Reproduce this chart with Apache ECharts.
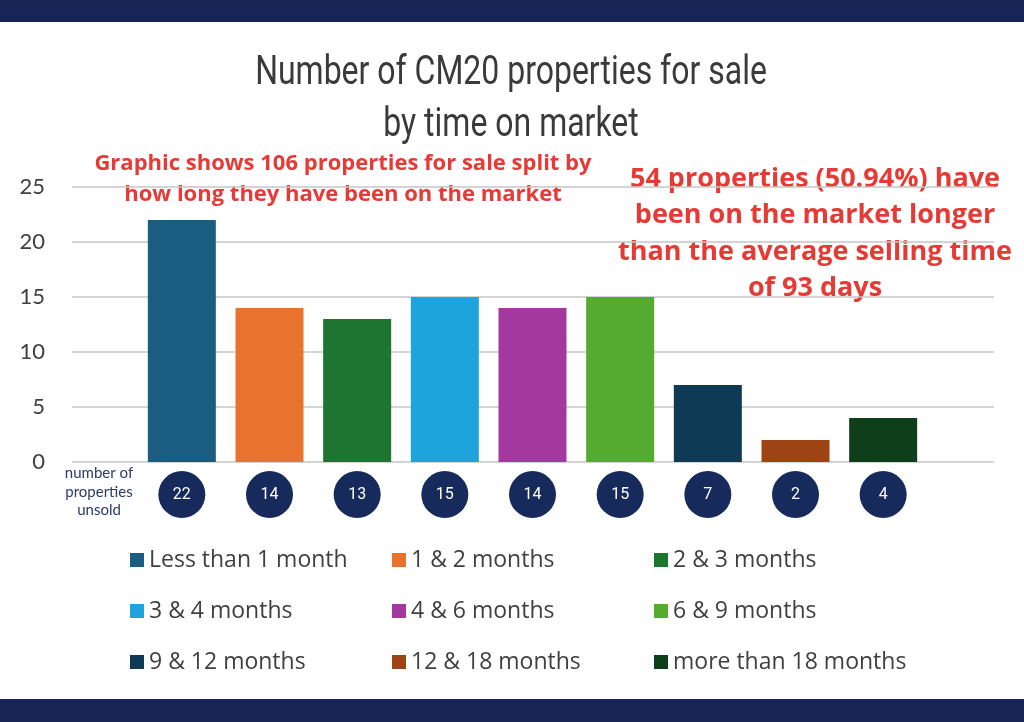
<!DOCTYPE html>
<html>
<head>
<meta charset="utf-8">
<script src="https://cdn.jsdelivr.net/npm/echarts@6/dist/echarts.min.js"></script>
<style>
html,body{margin:0;padding:0;background:#fff;}
#chart{width:1024px;height:722px;}
</style>
</head>
<body>
<div id="chart"></div>
<script>
var categories = ['Less than 1 month','1 & 2 months','2 & 3 months','3 & 4 months','4 & 6 months','6 & 9 months','9 & 12 months','12 & 18 months','more than 18 months'];
var counts = [22, 14, 13, 15, 14, 15, 7, 2, 4];
var colors = ['#1a5d80','#e8732f','#1d7530','#1fa3dc','#a3389f','#55ab2f','#0f3a55','#9e4313','#0f3e1a'];
var yTicks = [0, 5, 10, 15, 20, 25];
var titleLines = ['Number of CM20 properties for sale', 'by time on market'];
var noteLeft = ['Graphic shows 106 properties for sale split by', 'how long they have been on the market'];
var noteRight = ['54 properties (50.94%) have', 'been on the market longer', 'than the average selling time', 'of 93 days'];
var rowLabel = ['number of', 'properties', 'unsold'];

var chart = echarts.init(document.getElementById('chart'));

var series = categories.map(function (name, i) {
  return {
    name: name,
    type: 'bar',
    stack: 'all',
    xAxisIndex: 1,
    yAxisIndex: 1,
    barWidth: 68,
    itemStyle: { color: colors[i] },
    data: categories.map(function (c, j) { return j === i ? counts[i] : '-'; })
  };
});

function legendCol(idx, left) {
  return {
    orient: 'vertical',
    left: left,
    top: 548,
    padding: 0,
    itemWidth: 14,
    itemHeight: 14,
    itemGap: 27,
    icon: 'rect',
    selectedMode: false,
    textStyle: { fontFamily: 'Open Sans', fontSize: 23, color: '#404040', lineHeight: 24 },
    data: idx.map(function (k) { return categories[k]; })
  };
}

var option = {
  backgroundColor: '#ffffff',
  animation: false,
  legend: [legendCol([0,3,6], 130), legendCol([1,4,7], 392), legendCol([2,5,8], 654)],
  grid: [
    { left: 72, right: 30, top: 187, bottom: 260 },
    { left: 138, width: 789, top: 187, bottom: 260 }
  ],
  xAxis: [
    { gridIndex: 0, type: 'value', min: 0, max: 1, show: false },
    {
      gridIndex: 1, type: 'category', data: categories,
      axisLine: { show: false }, axisTick: { show: false },
      axisLabel: {
        interval: 0, margin: 9,
        formatter: function (v, i) { return '{c|' + counts[i] + '}'; },
        rich: { c: { backgroundColor: '#172a5c', width: 47, height: 47, lineHeight: 47, borderRadius: 24, align: 'center', color: '#ffffff', fontSize: 16, fontFamily: 'Roboto' } }
      }
    }
  ],
  yAxis: [
    {
      gridIndex: 0, type: 'value', min: yTicks[0], max: yTicks[yTicks.length - 1], interval: 5,
      axisLine: { show: false }, axisTick: { show: false },
      axisLabel: { margin: 27, fontFamily: 'Lato', fontSize: 22, color: '#404040' },
      splitLine: { lineStyle: { color: '#c6c6c6', width: 1.5 } }
    },
    { gridIndex: 1, type: 'value', min: 0, max: 25, show: false }
  ],
  series: series,
  graphic: [
    { type: 'rect', left: 0, top: 0, shape: { width: 1024, height: 22 }, style: { fill: '#172556' } },
    { type: 'rect', left: 0, top: 699, shape: { width: 1024, height: 23 }, style: { fill: '#172556' } },
    { type: 'text', x: 511, y: 48, scaleX: 0.78, style: { text: titleLines.join('\n'), textAlign: 'center', fill: '#3a3a3a', fontFamily: 'Roboto', fontSize: 41, lineHeight: 52 } },
    { type: 'text', x: 343, y: 148, style: { text: noteLeft.join('\n'), textAlign: 'center', fill: '#e63a35', fontFamily: 'Open Sans', fontWeight: 'bold', fontSize: 22, lineHeight: 31 } },
    { type: 'text', x: 815, y: 161, style: { text: noteRight.join('\n'), textAlign: 'center', fill: '#e63a35', fontFamily: 'Open Sans', fontWeight: 'bold', fontSize: 27, lineHeight: 36.5 } },
    { type: 'text', x: 99, y: 464, style: { text: rowLabel.join('\n'), textAlign: 'center', fill: '#2b3a67', fontFamily: 'Lato', fontSize: 15, lineHeight: 18.5 } }
  ]
};
chart.setOption(option);
</script>
</body>
</html>
